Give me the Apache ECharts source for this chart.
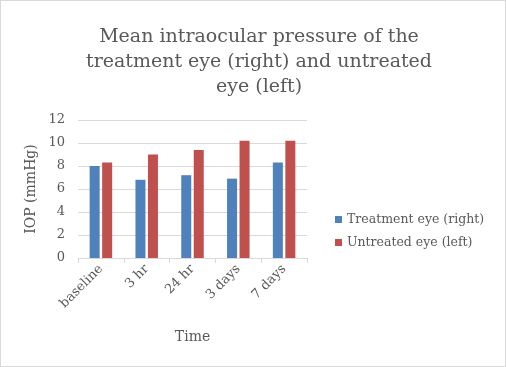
<!DOCTYPE html>
<html>
<head>
<meta charset="utf-8">
<script src="https://cdn.jsdelivr.net/npm/echarts@6/dist/echarts.min.js"></script>
<style>
  html, body { margin: 0; padding: 0; background: #fff; }
  #main { width: 506px; height: 367px; box-sizing: border-box; border: 1px solid #d9d9d9; }
</style>
</head>
<body>
<div id="main"></div>
<script>
const categories = ["baseline", "3 hr", "24 hr", "3 days", "7 days"];
const treatedEye = [8.0, 6.8, 7.2, 6.9, 8.3];
const untreatedEye = [8.3, 9.0, 9.4, 10.2, 10.2];
const seriesNames = ["Treatment eye (right)", "Untreated eye (left)"];

const font = "'DejaVu Serif', 'Liberation Serif', serif";
const textColor = "#595959";

const chart = echarts.init(document.getElementById("main"));
chart.setOption({
  animation: false,
  textStyle: { fontFamily: font },
  title: {
    text: "Mean intraocular pressure of the\ntreatment eye (right) and untreated\neye (left)",
    left: 253,
    top: 19,
    textAlign: "center",
    textStyle: { fontFamily: font, fontSize: 19, fontWeight: "normal", color: textColor, lineHeight: 25 },
  },
  legend: {
    orient: "vertical",
    left: 329,
    top: 207,
    itemWidth: 7,
    itemHeight: 7,
    itemGap: 10,
    icon: "rect",
    textStyle: { fontFamily: font, fontSize: 12.5, color: textColor },
    data: seriesNames,
  },
  grid: { left: 77, right: 198, top: 119, bottom: 108 },
  xAxis: {
    type: "category",
    data: categories,
    name: "Time",
    nameLocation: "middle",
    nameGap: 72,
    nameTextStyle: { fontFamily: font, fontSize: 14, color: textColor },
    axisLine: { lineStyle: { color: "#d9d9d9" } },
    axisTick: { show: true, lineStyle: { color: "#d9d9d9" }, length: 5 },
    axisLabel: { rotate: 45, fontSize: 13, color: textColor, margin: 9, fontFamily: font },
  },
  yAxis: {
    type: "value",
    min: 0,
    max: 12,
    interval: 2,
    name: "IOP (mmHg)",
    nameLocation: "middle",
    nameGap: 40,
    nameTextStyle: { fontFamily: font, fontSize: 14, color: textColor },
    axisLine: { show: false },
    axisTick: { show: false },
    splitLine: { lineStyle: { color: "#d9d9d9" } },
    axisLabel: { fontSize: 13, color: textColor, margin: 13, fontFamily: font },
  },
  series: [
    {
      name: seriesNames[0],
      type: "bar",
      data: treatedEye,
      barWidth: 10,
      barGap: "25%",
      itemStyle: { color: "#4f81bd" },
    },
    {
      name: seriesNames[1],
      type: "bar",
      data: untreatedEye,
      barWidth: 10,
      itemStyle: { color: "#c0504d" },
    },
  ],
});
</script>
</body>
</html>
